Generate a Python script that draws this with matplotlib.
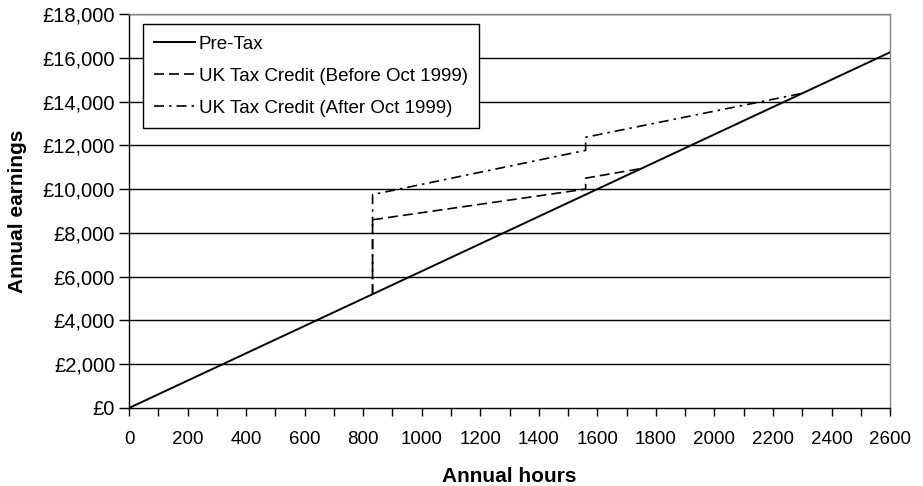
import matplotlib.pyplot as plt
from matplotlib.ticker import FuncFormatter, MultipleLocator

plt.rcParams['font.family'] = ['Liberation Sans', 'DejaVu Sans']

# hourly wage used for the pre-tax line
wage = 6.25
pretax_hours = [0, 2600]
pretax_earn = [h * wage for h in pretax_hours]

# tax credit before Oct 1999
before_hours = [832, 832, 1560, 1560, 1750]
before_earn = [5200, 8600, 10000, 10500, 10940]

# tax credit after Oct 1999
after_hours = [832, 832, 1560, 1560, 2300]
after_earn = [5200, 9750, 11770, 12370, 14375]

x_ticks = list(range(0, 2601, 200))
y_ticks = list(range(0, 18001, 2000))

fig = plt.figure(figsize=(9.23, 4.86), dpi=100)
ax = fig.add_axes([0.1398, 0.1605, 0.8245, 0.8107])

for y in y_ticks[1:]:
    ax.axhline(y, color='black', lw=1.0, zorder=1)

ax.plot(pretax_hours, pretax_earn, color='black', lw=1.4, label='Pre-Tax', zorder=3)
ax.plot(before_hours, before_earn, color='black', lw=1.2, dashes=(6, 3),
        label='UK Tax Credit (Before Oct 1999)', zorder=3)
ax.plot(after_hours, after_earn, color='black', lw=1.2, dashes=(6, 3, 1.5, 3),
        label='UK Tax Credit (After Oct 1999)', zorder=3)

ax.set_xlim(0, 2600)
ax.set_ylim(0, 18000)
ax.set_xticks(x_ticks)
ax.xaxis.set_minor_locator(MultipleLocator(100))
ax.set_yticks(y_ticks)
ax.yaxis.set_major_formatter(FuncFormatter(lambda v, p: '£{:,.0f}'.format(v)))
ax.tick_params(axis='y', direction='out', length=7, width=1, labelsize=14.5, pad=3)
ax.tick_params(axis='x', which='both', direction='out', length=6, width=1)
ax.tick_params(axis='x', labelsize=13.5, pad=10.5)

for side in ['top', 'right']:
    ax.spines[side].set_color('#888888')
    ax.spines[side].set_linewidth(1)
for side in ['left', 'bottom']:
    ax.spines[side].set_color('black')
    ax.spines[side].set_linewidth(1)

ax.set_xlabel('Annual hours', fontsize=15, fontweight='bold', labelpad=13.5)
ax.set_ylabel('Annual earnings', fontsize=15, fontweight='bold', labelpad=11)

leg = ax.legend(loc='upper left', bbox_to_anchor=(0.018, 0.974), fontsize=13.5,
                frameon=True, fancybox=False, handlelength=2.2, borderpad=0.6,
                labelspacing=0.8, handletextpad=0.2, borderaxespad=0)
leg.get_frame().set_edgecolor('black')
leg.get_frame().set_linewidth(1)
leg.get_frame().set_facecolor('white')
leg.get_frame().set_alpha(1)

fig.savefig('out.png', dpi=100)
